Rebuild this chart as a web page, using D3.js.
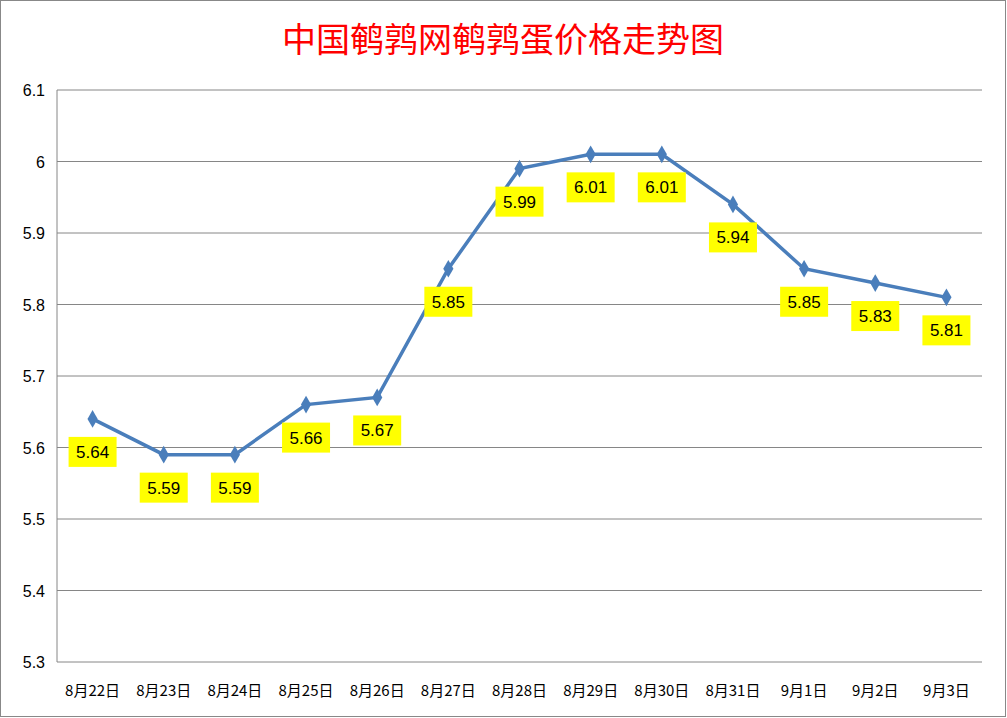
<!DOCTYPE html>
<html><head><meta charset="utf-8">
<script src="https://cdn.jsdelivr.net/npm/d3@7"></script>
<style>body{margin:0;background:#fff}</style>
</head><body>
<script>
// chart data
const categories = ["8月22日","8月23日","8月24日","8月25日","8月26日","8月27日","8月28日","8月29日","8月30日","8月31日","9月1日","9月2日","9月3日"];
const prices = [5.64,5.59,5.59,5.66,5.67,5.85,5.99,6.01,6.01,5.94,5.85,5.83,5.81];
const yTicks = [5.3,5.4,5.5,5.6,5.7,5.8,5.9,6,6.1];

const W = 1007, H = 718;
const svg = d3.select("body").append("svg").attr("width", W).attr("height", H);

svg.append("rect").attr("x", 0.5).attr("y", 0.5).attr("width", W - 2).attr("height", H - 2)
    .attr("fill", "#fff").attr("stroke", "#888");

svg.append("text").attr("x", 503).attr("y", 52).attr("text-anchor", "middle")
    .attr("font-family", "Noto Sans CJK SC").attr("font-size", 34).attr("fill", "#ff0000")
    .text("中国鹌鹑网鹌鹑蛋价格走势图");

const x = d3.scaleBand().domain(categories).range([57, 982]);
const y = d3.scaleLinear().domain([5.3, 6.1]).range([662, 90]);

// gridlines
svg.append("g").selectAll("line").data(yTicks).join("line")
    .attr("x1", 57).attr("x2", 982).attr("y1", d => y(d)).attr("y2", d => y(d))
    .attr("stroke", "#868686");
svg.append("line").attr("x1", 57).attr("x2", 57).attr("y1", 90).attr("y2", 662).attr("stroke", "#868686");

svg.append("g").selectAll("text").data(yTicks).join("text")
    .attr("x", 45).attr("y", d => y(d) + 6).attr("text-anchor", "end")
    .attr("font-family", "Liberation Sans").attr("font-size", 16).text(d => d);

svg.append("g").selectAll("text").data(categories).join("text")
    .attr("x", d => x(d) + x.bandwidth() / 2).attr("y", 696).attr("text-anchor", "middle")
    .attr("font-family", "Noto Sans CJK SC").attr("font-size", 15).text(d => d);

const cx = (d, i) => x(categories[i]) + x.bandwidth() / 2;
const line = d3.line().x((d, i) => cx(d, i)).y(d => y(d));
svg.append("path").datum(prices).attr("d", line).attr("fill", "none")
    .attr("stroke", "#4a7ebb").attr("stroke-width", 3.5);

svg.append("g").selectAll("path").data(prices).join("path")
    .attr("d", d3.symbol(d3.symbolDiamond, 90))
    .attr("transform", (d, i) => `translate(${cx(d, i)},${y(d)})`)
    .attr("fill", "#4a7ebb");

const lab = svg.append("g").selectAll("g").data(prices).join("g")
    .attr("transform", (d, i) => `translate(${cx(d, i)},${y(d) + 33})`);
lab.append("rect").attr("x", -24).attr("y", -15).attr("width", 48).attr("height", 30).attr("fill", "#ffff00");
lab.append("text").attr("text-anchor", "middle").attr("y", 6)
    .attr("font-family", "Liberation Sans").attr("font-size", 17).text(d => d.toFixed(2));
</script>
</body></html>
